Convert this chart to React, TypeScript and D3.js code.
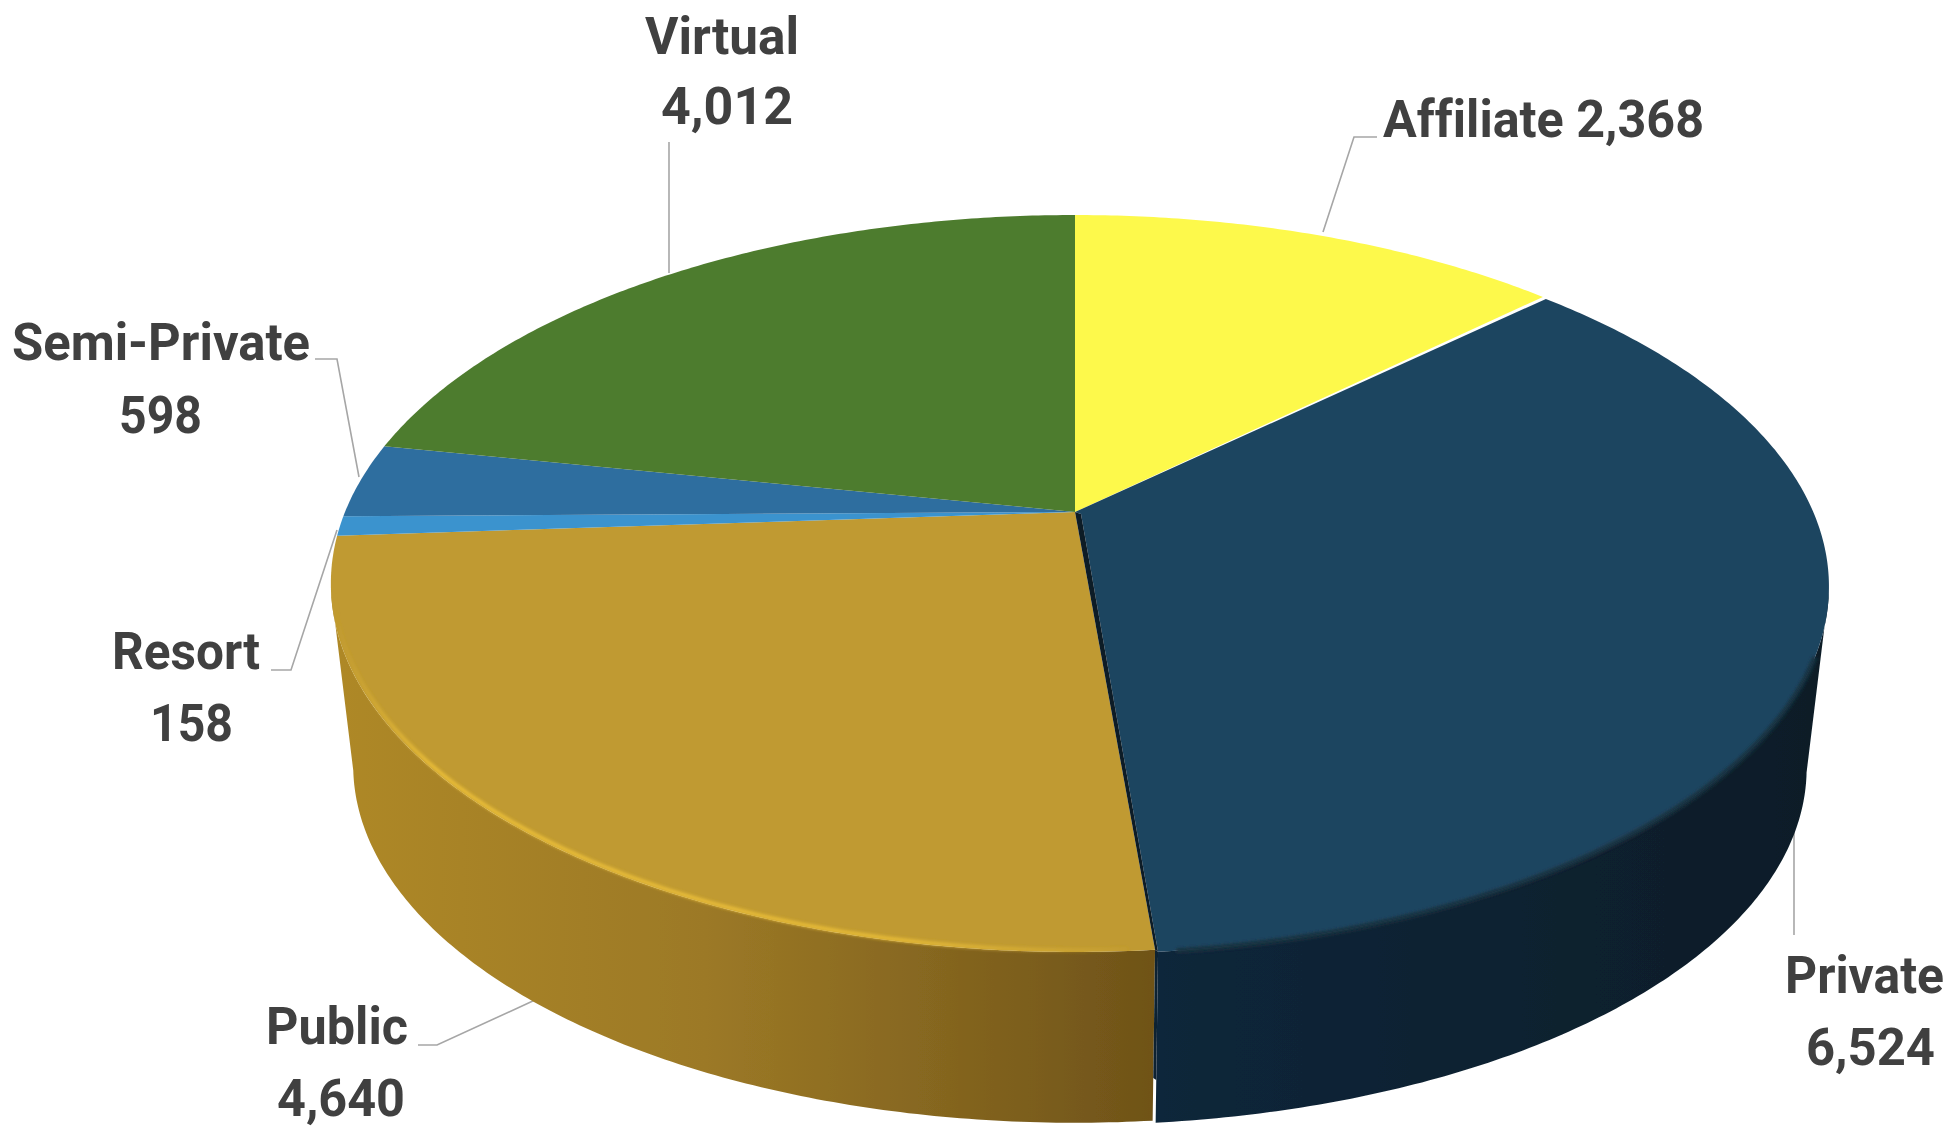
import React from "react";
import * as d3 from "d3";

const categories = ["Affiliate", "Private", "Public", "Resort", "Semi-Private", "Virtual"];
const seriesValues = [2368, 6524, 4640, 158, 598, 4012];
const faceColors = ["#FDF94C", "#1F4560", "#C09A30", "#3B93CE", "#2F6E9F", "#4E7B2E"];

// label placement, per category
const labelLines = [
  { lines: [{ t: "both", x0: 1383, x1: 1704, y: 137 }], leader: [[1323, 232], [1354, 137], [1377, 137]] },
  { lines: [{ t: "name", x0: 1785, x1: 1944, y: 993 }, { t: "value", x0: 1806, x1: 1935, y: 1065 }], leader: [[1794, 826], [1794, 935]] },
  { lines: [{ t: "name", x0: 266, x1: 408, y: 1044 }, { t: "value", x0: 277, x1: 405, y: 1116 }], leader: [[535, 1000], [437, 1045], [418, 1045]] },
  { lines: [{ t: "name", x0: 112, x1: 260, y: 669 }, { t: "value", x0: 150, x1: 233, y: 741 }], leader: [[337, 530], [291, 670], [271, 670]] },
  { lines: [{ t: "name", x0: 12, x1: 310, y: 360 }, { t: "value", x0: 119, x1: 202, y: 433 }], leader: [[359, 477], [337, 359], [315, 359]] },
  { lines: [{ t: "name", x0: 645, x1: 799, y: 54 }, { t: "value", x0: 661, x1: 793, y: 124 }], leader: [[669, 273], [669, 142]] },
];

const W = 1957, H = 1132;
const CX = 1075, CY = 512, B = 730, A = 354.6, K = 0.194;
const BOTTOM_CY = 696, BOTTOM_S = 0.97;

type Pt = [number, number];
type Shift = (a: number) => Pt;
const noShift: Shift = () => [0, 0];

const project = (a: number, cy: number, s: number, shift: Shift = noShift): Pt => {
  const x = Math.sin(a), y = Math.cos(a), w = 1 + K * y;
  const [dx, dy] = shift(a);
  return [CX + dx + (s * B * x) / w, cy + dy - (s * A * y) / w];
};
const arcPts = (a0: number, a1: number, cy: number, s: number, shift: Shift = noShift): Pt[] => {
  const n = Math.max(2, Math.ceil(Math.abs(a1 - a0) / 0.01));
  return d3.range(n + 1).map((i) => project(a0 + ((a1 - a0) * i) / n, cy, s, shift));
};

const line = d3.line<Pt>().x((d) => d[0]).y((d) => d[1]);
const closed = (pts: Pt[]) => (line(pts) ?? "") + "Z";
const fmt = d3.format(",");
const rad = (d: number) => (d * Math.PI) / 180;

export default function App() {
  const arcs = d3.pie<number>().sort(null).value((d) => d)(seriesValues);
  const priv = arcs[1];
  const pub = arcs[2];

  // the Private slice is pulled out a little: most at its outer middle
  const privShift: Shift = (a) => [
    3 + 7 * Math.sin((Math.PI * (a - priv.startAngle)) / (priv.endAngle - priv.startAngle)),
    2,
  ];
  const privApex: Pt = [CX + 6, CY + 2];

  const pubTop = project(pub.startAngle, CY, 1);
  const pubBottom = project(pub.startAngle, BOTTOM_CY, BOTTOM_S);
  const privTop = project(priv.endAngle, CY, 1, privShift);
  const privBottom = project(priv.endAngle, BOTTOM_CY, BOTTOM_S, privShift);

  const wall = (a0: number, a1: number, shift: Shift = noShift) =>
    closed([...arcPts(a0, a1, CY, 1, shift), ...arcPts(a1, a0, BOTTOM_CY, BOTTOM_S, shift)]);

  // dark cut between the Public and Private slices
  const topGap: Pt[] = [[CX, CY], pubTop, privTop, privApex];
  const wallGap: Pt[] = [
    pubTop,
    privTop,
    [privTop[0] + (privBottom[0] - privTop[0]) * 0.75, privTop[1] + (privBottom[1] - privTop[1]) * 0.75],
    [pubTop[0] + (pubBottom[0] - pubTop[0]) * 0.75, pubTop[1] + (pubBottom[1] - pubTop[1]) * 0.75],
  ];

  return (
    <svg
      width={W}
      height={H}
      viewBox={`0 0 ${W} ${H}`}
      style={{ position: "absolute", left: 0, top: 0, background: "#fff" }}
    >
      <defs>
        <linearGradient id="pubWall" gradientUnits="userSpaceOnUse" x1={340} x2={1152} y1={0} y2={0}>
          <stop offset="0" stopColor="#AE8828" />
          <stop offset="0.45" stopColor="#9C7926" />
          <stop offset="0.75" stopColor="#84651F" />
          <stop offset="1" stopColor="#6F5318" />
        </linearGradient>
        <linearGradient id="privWall" gradientUnits="userSpaceOnUse" x1={1160} x2={1810} y1={0} y2={0}>
          <stop offset="0" stopColor="#10263A" />
          <stop offset="1" stopColor="#0C1D28" />
        </linearGradient>
        <linearGradient id="pubRim" gradientUnits="userSpaceOnUse" x1={335} x2={1150} y1={0} y2={0}>
          <stop offset="0" stopColor="#E8BC38" stopOpacity="0" />
          <stop offset="0.12" stopColor="#E8BC38" stopOpacity="1" />
          <stop offset="0.7" stopColor="#E8BC38" stopOpacity="0.9" />
          <stop offset="1" stopColor="#E8BC38" stopOpacity="0" />
        </linearGradient>
        <filter id="soft" x="-5%" y="-5%" width="110%" height="110%">
          <feGaussianBlur stdDeviation="0.7" />
        </filter>
        <filter id="rim" x="-5%" y="-5%" width="110%" height="110%">
          <feGaussianBlur stdDeviation="1.6" />
        </filter>
      </defs>
      <g filter="url(#soft)">
        {arcs.map((d, i) => (
          <path
            key={"leader" + i}
            d={line(labelLines[i].leader as Pt[]) ?? ""}
            fill="none"
            stroke="#A6A6A6"
            strokeWidth={1.6}
          />
        ))}

        <path d={wall(pub.startAngle, rad(258))} fill="url(#pubWall)" />
        <path d={wall(rad(102), priv.endAngle, privShift)} fill="url(#privWall)" />
        <path d={closed(wallGap)} fill="#0E2230" />

        {arcs.map((d, i) => {
          const pts: Pt[] =
            i === 1
              ? [[CX, CY], ...arcPts(d.startAngle, d.endAngle, CY, 1, privShift), privApex]
              : [[CX, CY], ...arcPts(d.startAngle, d.endAngle, CY, 1)];
          return <path key={categories[i]} d={closed(pts)} fill={faceColors[i]} />;
        })}
        <path d={closed(topGap)} fill="#0B1C28" />

        <path
          d={line(arcPts(pub.startAngle + 0.03, rad(258), CY, 0.996)) ?? ""}
          fill="none"
          stroke="url(#pubRim)"
          strokeWidth={4}
          filter="url(#rim)"
        />
        <path
          d={line(arcPts(rad(112), priv.endAngle - 0.02, CY, 1, privShift)) ?? ""}
          fill="none"
          stroke="#15303F"
          strokeWidth={5}
          filter="url(#rim)"
        />

        {arcs.map((d, i) =>
          labelLines[i].lines.map((l, j) => {
            const txt =
              l.t === "both"
                ? `${categories[i]} ${fmt(seriesValues[i])}`
                : l.t === "name"
                ? categories[i]
                : fmt(seriesValues[i]);
            return (
              <text
                key={i + "-" + j}
                x={l.x0}
                y={l.y}
                textLength={l.x1 - l.x0}
                lengthAdjust="spacingAndGlyphs"
                fontFamily="Roboto, 'Open Sans', sans-serif"
                fontWeight={700}
                fontSize={52}
                fill="#404040"
                style={{ fontVariantLigatures: "none" }}
              >
                {txt}
              </text>
            );
          })
        )}
      </g>
    </svg>
  );
}
